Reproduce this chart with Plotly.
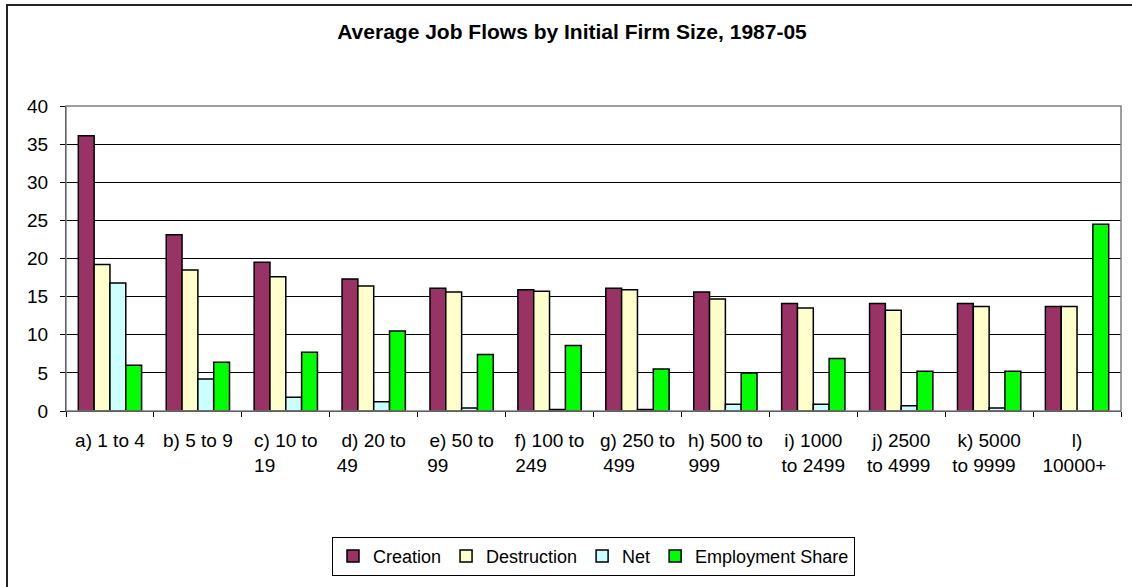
import plotly.graph_objects as go

# firm size classes, first and second line of each tick label
size_line1 = ["a) 1 to 4", "b) 5 to 9", "c) 10 to", "d) 20 to", "e) 50 to",
              "f) 100 to", "g) 250 to", "h) 500 to", "i) 1000", "j) 2500",
              "k) 5000", "l)"]
size_line2 = ["", "", "19", "49", "99", "249", "499", "999", "to 2499",
              "to 4999", "to 9999", "10000+"]

creation = [36.1, 23.1, 19.5, 17.3, 16.1, 15.9, 16.1, 15.6, 14.1, 14.1, 14.1, 13.7]
destruction = [19.2, 18.5, 17.6, 16.4, 15.6, 15.7, 15.9, 14.7, 13.5, 13.2, 13.7, 13.7]
net = [16.8, 4.2, 1.8, 1.2, 0.4, 0.2, 0.2, 0.9, 0.9, 0.7, 0.4, 0.0]
emp_share = [6.0, 6.4, 7.7, 10.5, 7.4, 8.6, 5.5, 5.0, 6.9, 5.2, 5.2, 24.5]

series = [
    ("Creation", creation, "#993366"),
    ("Destruction", destruction, "#FFFFCC"),
    ("Net", net, "#CCFFFF"),
    ("Employment Share", emp_share, "#00FF00"),
]

# Excel left-aligns the wrapped second line; fake it with trailing nbsp
line2_pad = [0, 0, 8, 10, 9, 7, 7, 8, 0, 1, 2, 1]

labels = []
for a, b, n in zip(size_line1, size_line2, line2_pad):
    if b:
        labels.append(a + "<br>" + b + "&nbsp;" * n)
    else:
        labels.append(a)

FONT = "Arial, Liberation Sans, sans-serif"

fig = go.Figure()
for name, vals, col in series:
    fig.add_trace(go.Bar(
        name=name, x=labels, y=vals,
        marker=dict(color=col, line=dict(color="black", width=1.5)),
    ))

# pixel geometry of the plot area
W, H = 1132, 587
L, R, T, B = 66, 11, 106, 173
pw = W - L - R
ph = H - T - B

def px_x(p):
    return (p - L) / pw

def px_y(p):
    return (H - B - p) / ph

fig.update_layout(
    width=W, height=H,
    margin=dict(l=L, r=R, t=T, b=B),
    paper_bgcolor="white", plot_bgcolor="white",
    font=dict(family=FONT, size=19, color="black"),
    barmode="group", bargap=0.28, bargroupgap=0,
    title=dict(text="<b>Average Job Flows by Initial Firm Size, 1987-05</b>",
               x=572 / W, xanchor="center", xref="container",
               y=1 - 32 / H, yanchor="middle", yref="container",
               font=dict(family=FONT, size=21, color="black")),
    legend=dict(orientation="h", x=0.5, xanchor="center",
                y=px_y(541), yanchor="top",
                bordercolor="black", borderwidth=1,
                font=dict(family=FONT, size=18), itemwidth=30,
                traceorder="normal"),
    showlegend=True,
)

fig.update_xaxes(type="category", tickson="boundaries", ticks="outside",
                 ticklen=5, tickcolor="black", showline=True, linecolor="black",
                 linewidth=1, showgrid=False, ticklabelstandoff=12)
fig.update_yaxes(range=[0, 40], dtick=5, ticks="outside", ticklen=5,
                 tickcolor="black", showline=True, linecolor="black", linewidth=1,
                 showgrid=True, gridcolor="black", gridwidth=1, zeroline=False,
                 ticklabelstandoff=8)

# gray plot-area frame and outer chart border
fig.add_shape(type="rect", xref="paper", yref="paper", x0=0, x1=1, y0=0, y1=1,
              line=dict(color="#808080", width=1.5), layer="above")
fig.add_shape(type="rect", xref="paper", yref="paper",
              x0=px_x(7), x1=px_x(1140), y0=px_y(595), y1=px_y(4),
              line=dict(color="#222222", width=2))

fig.write_html("out.html", config={"displayModeBar": False},
               post_script="document.body.style.margin='0';")
